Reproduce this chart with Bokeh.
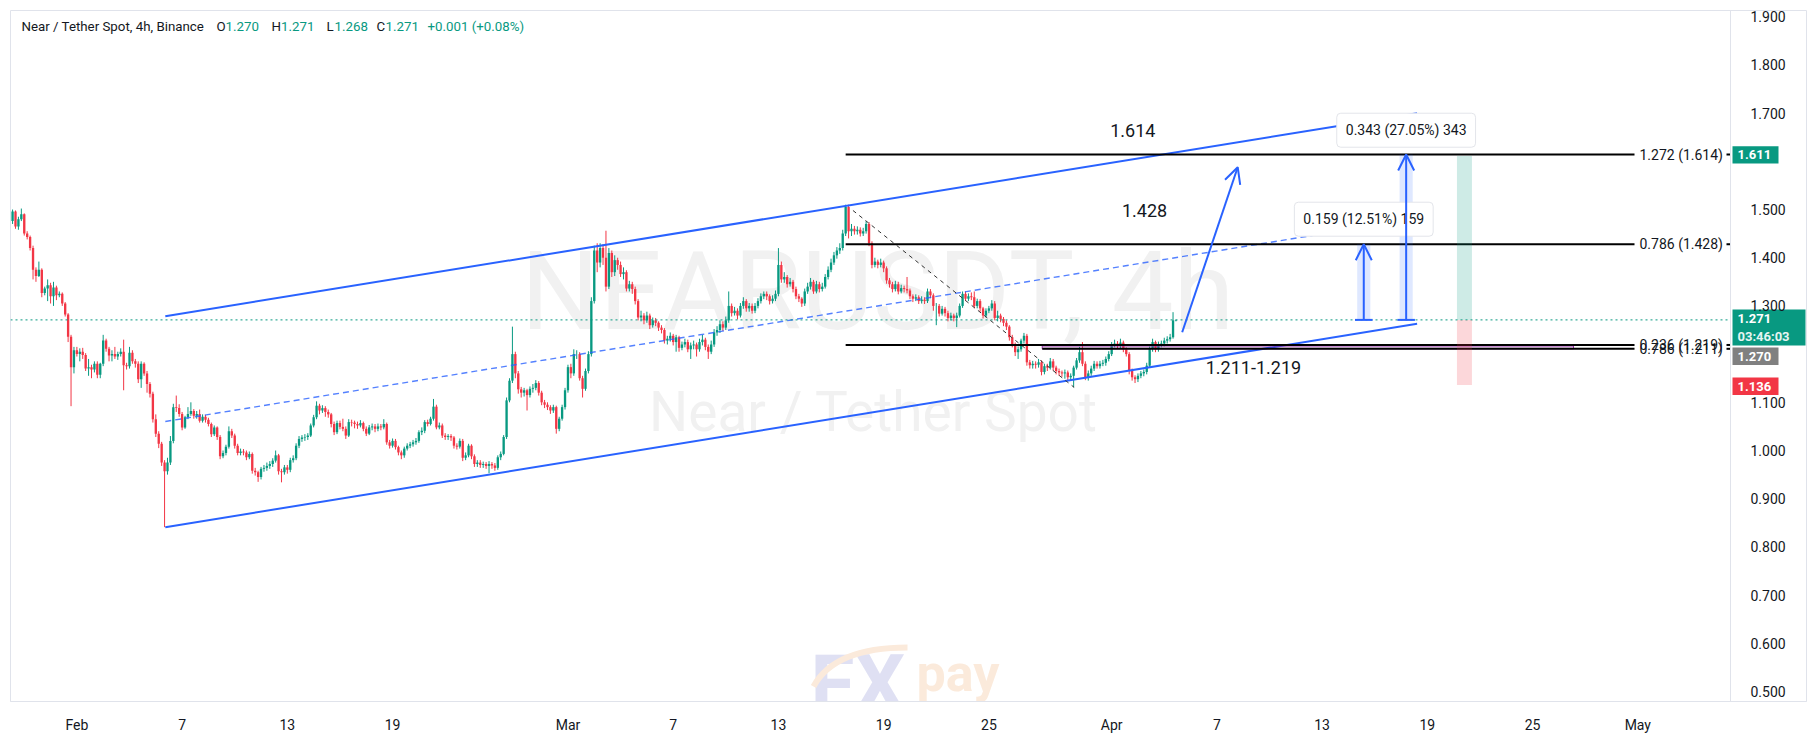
import pandas as pd
from bokeh.plotting import figure
from bokeh.models import (ColumnDataSource, Range1d, FixedTicker, PrintfTickFormatter,
                          Label, Arrow, OpenHead)
from bokeh.embed import file_html
from bokeh.resources import INLINE

# ---------------- data ----------------
bar_start = "2026-01-28 08:00"   # 4h bars
first_open = 1.476
closes = [
    1.496, 1.465, 1.480, 1.490, 1.450, 1.443, 1.420, 1.375, 1.362, 1.375,
    1.327, 1.336, 1.343, 1.320, 1.338, 1.322, 1.325, 1.305, 1.282, 1.236,
    1.173, 1.208, 1.200, 1.205, 1.198, 1.170, 1.173, 1.168, 1.180, 1.157,
    1.180, 1.228, 1.211, 1.197, 1.200, 1.195, 1.200, 1.205, 1.177, 1.175,
    1.203, 1.185, 1.180, 1.148, 1.180, 1.160, 1.138, 1.118, 1.065, 1.035,
    1.014, 0.975, 0.957, 0.975, 1.020, 1.090, 1.088, 1.076, 1.048, 1.069,
    1.076, 1.082, 1.072, 1.076, 1.062, 1.070, 1.064, 1.055, 1.034, 1.048,
    1.028, 0.988, 0.995, 1.008, 1.040, 1.031, 1.010, 0.995, 0.998, 0.996,
    0.986, 0.993, 0.958, 0.955, 0.945, 0.962, 0.964, 0.968, 0.972, 0.979,
    0.990, 0.957, 0.955, 0.965, 0.960, 0.980, 0.984, 1.010, 1.024, 1.027,
    1.028, 1.031, 1.052, 1.069, 1.093, 1.083, 1.088, 1.080, 1.075, 1.055,
    1.038, 1.057, 1.049, 1.045, 1.031, 1.059, 1.058, 1.055, 1.052, 1.057,
    1.045, 1.035, 1.048, 1.050, 1.045, 1.050, 1.048, 1.055, 1.017, 1.010,
    1.020, 1.007, 0.996, 0.990, 1.004, 1.010, 1.013, 1.017, 1.020, 1.038,
    1.041, 1.059, 1.055, 1.066, 1.091, 1.048, 1.052, 1.031, 1.028, 1.030,
    1.027, 1.010, 1.008, 1.020, 0.985, 0.990, 1.010, 0.988, 0.972, 0.975,
    0.970, 0.972, 0.968, 0.972, 0.969, 0.964, 0.986, 0.993, 1.028, 1.104,
    1.145, 1.200, 1.160, 1.127, 1.120, 1.125, 1.115, 1.128, 1.130, 1.140,
    1.120, 1.100, 1.095, 1.090, 1.083, 1.090, 1.045, 1.066, 1.090, 1.125,
    1.173, 1.160, 1.200, 1.200, 1.150, 1.128, 1.165, 1.200, 1.310, 1.415,
    1.390, 1.420, 1.400, 1.340, 1.410, 1.370, 1.395, 1.385, 1.366, 1.370,
    1.336, 1.345, 1.335, 1.310, 1.276, 1.280, 1.270, 1.280, 1.260, 1.270,
    1.265, 1.255, 1.250, 1.228, 1.232, 1.238, 1.225, 1.235, 1.213, 1.220,
    1.225, 1.210, 1.218, 1.220, 1.210, 1.225, 1.230, 1.215, 1.205, 1.220,
    1.245, 1.250, 1.262, 1.255, 1.270, 1.300, 1.285, 1.290, 1.280, 1.300,
    1.310, 1.295, 1.300, 1.290, 1.300, 1.310, 1.320, 1.325, 1.320, 1.310,
    1.315, 1.325, 1.385, 1.355, 1.360, 1.345, 1.350, 1.335, 1.320, 1.315,
    1.305, 1.330, 1.340, 1.350, 1.330, 1.345, 1.335, 1.340, 1.360, 1.375,
    1.390, 1.405, 1.415, 1.420, 1.450, 1.505, 1.455, 1.460, 1.455, 1.458,
    1.450, 1.455, 1.470, 1.430, 1.385, 1.392, 1.385, 1.390, 1.378, 1.353,
    1.345, 1.335, 1.345, 1.330, 1.337, 1.335, 1.332, 1.320, 1.315, 1.318,
    1.310, 1.313, 1.310, 1.330, 1.322, 1.300, 1.300, 1.284, 1.294, 1.285,
    1.275, 1.280, 1.275, 1.280, 1.300, 1.325, 1.315, 1.320, 1.318, 1.300,
    1.310, 1.295, 1.280, 1.290, 1.295, 1.305, 1.275, 1.280, 1.273, 1.265,
    1.257, 1.235, 1.220, 1.204, 1.210, 1.228, 1.238, 1.183, 1.177, 1.180,
    1.178, 1.183, 1.163, 1.175, 1.172, 1.185, 1.172, 1.165, 1.162, 1.160,
    1.162, 1.152, 1.155, 1.172, 1.187, 1.204, 1.180, 1.152, 1.160, 1.170,
    1.180, 1.175, 1.180, 1.182, 1.190, 1.200, 1.220, 1.222, 1.218, 1.224,
    1.210, 1.200, 1.165, 1.152, 1.148, 1.155, 1.160, 1.163, 1.176, 1.211,
    1.225, 1.210, 1.220, 1.222, 1.228, 1.231, 1.235, 1.270, 1.271,
]
highs = [
    1.500, 1.498, 1.485, 1.502, 1.492, 1.455, 1.446, 1.425, 1.380, 1.392,
    1.378, 1.340, 1.355, 1.348, 1.350, 1.342, 1.330, 1.328, 1.308, 1.285,
    1.240, 1.215, 1.215, 1.212, 1.213, 1.202, 1.190, 1.178, 1.185, 1.185,
    1.182, 1.240, 1.232, 1.215, 1.208, 1.215, 1.205, 1.212, 1.230, 1.182,
    1.215, 1.208, 1.190, 1.185, 1.185, 1.183, 1.165, 1.142, 1.122, 1.075,
    1.040, 1.018, 0.980, 0.985, 1.030, 1.097, 1.114, 1.096, 1.080, 1.072,
    1.090, 1.100, 1.086, 1.082, 1.085, 1.075, 1.074, 1.068, 1.058, 1.052,
    1.050, 1.032, 1.000, 1.012, 1.050, 1.045, 1.035, 1.014, 1.004, 1.003,
    1.000, 0.998, 0.996, 0.964, 0.958, 0.966, 0.970, 0.975, 0.978, 0.984,
    1.000, 0.993, 0.962, 0.970, 0.970, 0.985, 0.990, 1.015, 1.030, 1.032,
    1.034, 1.036, 1.056, 1.074, 1.102, 1.097, 1.094, 1.092, 1.085, 1.078,
    1.060, 1.062, 1.062, 1.066, 1.050, 1.065, 1.064, 1.062, 1.060, 1.063,
    1.060, 1.050, 1.053, 1.056, 1.055, 1.056, 1.055, 1.065, 1.058, 1.022,
    1.025, 1.024, 1.010, 1.000, 1.008, 1.015, 1.018, 1.022, 1.026, 1.042,
    1.048, 1.063, 1.064, 1.070, 1.107, 1.095, 1.058, 1.056, 1.036, 1.034,
    1.034, 1.030, 1.015, 1.025, 1.024, 0.996, 1.014, 1.013, 0.992, 0.980,
    0.980, 0.977, 0.976, 0.978, 0.976, 0.974, 0.990, 0.998, 1.032, 1.110,
    1.150, 1.257, 1.205, 1.165, 1.132, 1.130, 1.128, 1.133, 1.138, 1.146,
    1.144, 1.124, 1.105, 1.100, 1.094, 1.095, 1.093, 1.070, 1.095, 1.130,
    1.178, 1.180, 1.210, 1.208, 1.204, 1.155, 1.170, 1.206, 1.318, 1.425,
    1.430, 1.430, 1.428, 1.456, 1.420, 1.415, 1.405, 1.400, 1.392, 1.380,
    1.374, 1.352, 1.350, 1.340, 1.314, 1.290, 1.285, 1.288, 1.284, 1.276,
    1.275, 1.268, 1.260, 1.254, 1.238, 1.245, 1.242, 1.240, 1.238, 1.226,
    1.232, 1.230, 1.224, 1.228, 1.224, 1.232, 1.240, 1.234, 1.220, 1.228,
    1.252, 1.258, 1.270, 1.268, 1.278, 1.330, 1.305, 1.298, 1.295, 1.306,
    1.318, 1.314, 1.306, 1.305, 1.306, 1.316, 1.326, 1.330, 1.330, 1.324,
    1.322, 1.332, 1.420, 1.392, 1.370, 1.364, 1.358, 1.354, 1.340, 1.325,
    1.318, 1.336, 1.348, 1.358, 1.354, 1.352, 1.350, 1.348, 1.366, 1.382,
    1.398, 1.412, 1.422, 1.430, 1.458, 1.510, 1.510, 1.470, 1.466, 1.465,
    1.463, 1.462, 1.476, 1.474, 1.434, 1.400, 1.396, 1.398, 1.394, 1.382,
    1.358, 1.350, 1.352, 1.350, 1.344, 1.342, 1.360, 1.336, 1.324, 1.324,
    1.322, 1.320, 1.318, 1.336, 1.335, 1.326, 1.306, 1.304, 1.300, 1.298,
    1.290, 1.286, 1.284, 1.286, 1.305, 1.330, 1.330, 1.326, 1.328, 1.330,
    1.315, 1.314, 1.298, 1.295, 1.300, 1.312, 1.310, 1.290, 1.284, 1.277,
    1.270, 1.260, 1.240, 1.224, 1.216, 1.232, 1.244, 1.242, 1.188, 1.186,
    1.185, 1.190, 1.187, 1.180, 1.180, 1.192, 1.190, 1.176, 1.170, 1.166,
    1.168, 1.166, 1.160, 1.176, 1.192, 1.215, 1.225, 1.185, 1.166, 1.176,
    1.186, 1.185, 1.186, 1.188, 1.195, 1.206, 1.225, 1.230, 1.227, 1.232,
    1.228, 1.214, 1.204, 1.170, 1.156, 1.160, 1.165, 1.168, 1.182, 1.216,
    1.232, 1.228, 1.226, 1.228, 1.234, 1.237, 1.242, 1.287, 1.271,
]
lows = [
    1.470, 1.460, 1.458, 1.476, 1.446, 1.438, 1.415, 1.355, 1.350, 1.360,
    1.318, 1.322, 1.310, 1.305, 1.300, 1.312, 1.318, 1.300, 1.278, 1.225,
    1.092, 1.160, 1.195, 1.185, 1.190, 1.165, 1.155, 1.150, 1.162, 1.150,
    1.150, 1.175, 1.205, 1.185, 1.185, 1.190, 1.188, 1.195, 1.125, 1.168,
    1.170, 1.180, 1.172, 1.140, 1.130, 1.155, 1.120, 1.110, 1.058, 1.028,
    1.005, 0.968, 0.841, 0.950, 0.970, 1.015, 1.080, 1.070, 1.042, 1.045,
    1.065, 1.072, 1.066, 1.066, 1.058, 1.058, 1.058, 1.050, 1.028, 1.030,
    1.022, 0.982, 0.984, 0.990, 1.004, 1.026, 1.004, 0.990, 0.990, 0.990,
    0.980, 0.982, 0.952, 0.948, 0.935, 0.940, 0.956, 0.958, 0.962, 0.966,
    0.975, 0.950, 0.934, 0.950, 0.952, 0.955, 0.975, 0.980, 1.005, 1.018,
    1.020, 1.022, 1.028, 1.048, 1.065, 1.075, 1.078, 1.070, 1.068, 1.048,
    1.032, 1.034, 1.044, 1.040, 1.024, 1.028, 1.050, 1.046, 1.045, 1.048,
    1.040, 1.030, 1.032, 1.042, 1.038, 1.040, 1.042, 1.044, 1.012, 1.004,
    1.006, 1.002, 0.990, 0.982, 0.985, 1.000, 1.005, 1.008, 1.012, 1.016,
    1.032, 1.036, 1.050, 1.052, 1.062, 1.044, 1.044, 1.026, 1.022, 1.022,
    1.020, 1.004, 1.002, 1.004, 0.978, 0.980, 0.986, 0.982, 0.966, 0.966,
    0.964, 0.964, 0.962, 0.953, 0.962, 0.958, 0.960, 0.980, 0.990, 1.024,
    1.100, 1.140, 1.150, 1.118, 1.110, 1.112, 1.083, 1.110, 1.120, 1.125,
    1.114, 1.094, 1.088, 1.084, 1.076, 1.078, 1.035, 1.040, 1.062, 1.085,
    1.120, 1.150, 1.155, 1.190, 1.145, 1.110, 1.124, 1.160, 1.195, 1.305,
    1.370, 1.380, 1.385, 1.330, 1.335, 1.360, 1.362, 1.375, 1.360, 1.355,
    1.330, 1.330, 1.325, 1.303, 1.270, 1.268, 1.262, 1.265, 1.252, 1.255,
    1.258, 1.248, 1.243, 1.222, 1.220, 1.226, 1.218, 1.205, 1.205, 1.208,
    1.214, 1.204, 1.190, 1.210, 1.195, 1.205, 1.218, 1.208, 1.190, 1.200,
    1.215, 1.238, 1.244, 1.248, 1.250, 1.265, 1.278, 1.280, 1.272, 1.276,
    1.294, 1.288, 1.288, 1.284, 1.285, 1.295, 1.305, 1.314, 1.312, 1.303,
    1.305, 1.310, 1.320, 1.348, 1.348, 1.338, 1.340, 1.328, 1.314, 1.308,
    1.298, 1.300, 1.325, 1.334, 1.325, 1.326, 1.328, 1.330, 1.336, 1.355,
    1.370, 1.385, 1.398, 1.408, 1.415, 1.445, 1.440, 1.445, 1.448, 1.448,
    1.444, 1.445, 1.450, 1.424, 1.378, 1.380, 1.378, 1.380, 1.370, 1.346,
    1.338, 1.328, 1.330, 1.324, 1.326, 1.328, 1.326, 1.314, 1.308, 1.310,
    1.304, 1.305, 1.304, 1.306, 1.316, 1.290, 1.260, 1.278, 1.280, 1.278,
    1.268, 1.270, 1.268, 1.256, 1.276, 1.296, 1.310, 1.310, 1.312, 1.295,
    1.295, 1.288, 1.274, 1.276, 1.285, 1.290, 1.270, 1.268, 1.266, 1.258,
    1.250, 1.228, 1.214, 1.196, 1.190, 1.205, 1.222, 1.176, 1.170, 1.170,
    1.170, 1.172, 1.156, 1.158, 1.165, 1.168, 1.166, 1.158, 1.155, 1.153,
    1.149, 1.146, 1.145, 1.131, 1.168, 1.182, 1.175, 1.146, 1.145, 1.155,
    1.165, 1.170, 1.170, 1.175, 1.176, 1.185, 1.196, 1.214, 1.212, 1.212,
    1.204, 1.195, 1.158, 1.145, 1.140, 1.142, 1.150, 1.154, 1.158, 1.172,
    1.205, 1.204, 1.205, 1.214, 1.216, 1.222, 1.226, 1.232, 1.268,
]

price_ticks = [0.5, 0.6, 0.7, 0.8, 0.9, 1.0, 1.1, 1.3, 1.4, 1.5, 1.7, 1.8, 1.9]
date_ticks = ["2026-02-01", "2026-02-07", "2026-02-13", "2026-02-19", "2026-03-01",
              "2026-03-07", "2026-03-13", "2026-03-19", "2026-03-25", "2026-04-01",
              "2026-04-07", "2026-04-13", "2026-04-19", "2026-04-25", "2026-05-01"]
date_tick_labels = ["Feb", "7", "13", "19", "Mar", "7", "13", "19", "25", "Apr",
                    "7", "13", "19", "25", "May"]

header_title = "Near / Tether Spot, 4h, Binance"
ohlc_letters = ["O", "H", "L", "C"]
ohlc_values = ["1.270", "1.271", "1.268", "1.271"]
change_text = "+0.001 (+0.08%)"

# chart drawings, anchored in (date, price)
channel_dates = ["2026-02-06 01:00", "2026-04-18 10:00"]
channel_upper = [1.2786, 1.6998]
channel_lower = [0.841, 1.2629]
channel_mid = [1.0602, 1.4814]
diag_dates = ["2026-03-17 06:00", "2026-03-29 20:40"]
diag_prices = [1.498, 1.131]
fib_levels = [1.614, 1.428, 1.219, 1.211]
fib_texts = ["1.272 (1.614)", "0.786 (1.428)", "0.236 (1.219)", "0.786 (1.211)"]
fib_start_dates = ["2026-03-16 20:00", "2026-03-16 20:00", "2026-03-16 20:00", "2026-03-28 01:00"]
zone_dates = ["2026-03-28 01:00", "2026-04-27 08:00"]
zone_prices = [1.211, 1.217]
projection_dates = ["2026-04-05 00:30", "2026-04-08 04:30"]
projection_prices = [1.2454, 1.5878]
current_price = 1.271
measure_dates = ["2026-04-15 09:00", "2026-04-17 19:00"]
measure_from = [1.271, 1.271]
measure_to = [1.428, 1.614]
measure_texts = ["0.159 (12.51%) 159", "0.343 (27.05%) 343"]
measure_label_prices = [1.4799, 1.6645]
position_dates = ["2026-04-20 16:30", "2026-04-21 13:00"]
position_target, position_entry, position_stop = 1.611, 1.271, 1.136
note_texts = ["1.614", "1.428", "1.211-1.219"]
note_dates = ["2026-04-02 05:00", "2026-04-02 21:00", "2026-04-09 02:00"]
note_prices = [1.6645, 1.4986, 1.1728]
badge_texts = ["1.611", "1.271", "1.270", "1.136"]
badge_prices = [1.6133, 1.2552, 1.1956, 1.1332]
badge_colors = ["#089981", "#089981", "#808080", "#f23645"]
countdown_text = "03:46:03"

# ---------------- helpers ----------------
T0 = pd.Timestamp("2026-02-01")


def day(s):
    return (pd.Timestamp(s) - T0) / pd.Timedelta(days=1)


X_START, X_END = day("2026-01-28 05:10"), day("2026-05-10 14:50")
Y_START, Y_END = 0.4793, 1.9129
FRAME_L, FRAME_T, FRAME_W, FRAME_H = 10, 10, 1796, 691
PRICE_AXIS_PX = 1730


def px_x(px):
    return X_START + (px - FRAME_L) / FRAME_W * (X_END - X_START)


def px_y(py):
    return Y_END - (py - FRAME_T) / FRAME_H * (Y_END - Y_START)


def px_h(n):
    return n / FRAME_H * (Y_END - Y_START)


FONT = "Roboto"
UP, DOWN = "#089981", "#f23645"
BLUE = "#2962ff"
TXT = "#131722"
HEAD_SIZE = "13.3px"

dates = pd.date_range(bar_start, periods=len(closes), freq="4h")
xs = [(d - T0) / pd.Timedelta(days=1) for d in dates]
opens = [first_open] + closes[:-1]
colors = [UP if c >= o else DOWN for o, c in zip(opens, closes)]
src = ColumnDataSource(dict(
    x=xs, top=[max(o, c) for o, c in zip(opens, closes)],
    bottom=[min(o, c) for o, c in zip(opens, closes)],
    high=highs, low=lows, color=colors))

p = figure(frame_width=FRAME_W, frame_height=FRAME_H, output_backend="svg",
           toolbar_location=None, y_axis_location="right",
           x_range=Range1d(X_START, X_END), y_range=Range1d(Y_START, Y_END),
           min_border_left=FRAME_L, min_border_top=FRAME_T, min_border_right=1,
           min_border_bottom=35,
           background_fill_color="white", border_fill_color="white")
p.grid.visible = False
p.outline_line_color = "#e0e3eb"

ya = p.yaxis[0]
ya.fixed_location = px_x(PRICE_AXIS_PX)
ya.ticker = FixedTicker(ticks=price_ticks)
ya.formatter = PrintfTickFormatter(format="%.3f")
xa = p.xaxis[0]
xa.ticker = FixedTicker(ticks=[day(d) for d in date_ticks])
xa.major_label_overrides = {int(day(d)): lab for d, lab in zip(date_ticks, date_tick_labels)}
for ax in (xa, ya):
    ax.major_tick_line_color = None
    ax.minor_tick_line_color = None
    ax.axis_line_color = "#e0e3eb"
    ax.major_label_text_font = FONT
    ax.major_label_text_font_size = "14px"
    ax.major_label_text_color = TXT
ya.major_label_standoff = 14
xa.major_label_standoff = 9

# ---------------- watermarks ----------------
for txt, size, px, py in [("NEARUSDT, 4h", "110px", 877, 291),
                          ("Near / Tether Spot", "55px", 873, 411)]:
    p.add_layout(Label(x=px_x(px), y=px_y(py), text=txt, text_align="center",
                       text_baseline="middle", text_font=FONT, text_font_size=size,
                       text_color="#f1f1f1", level="underlay"))
p.add_layout(Label(x=px_x(810), y=px_y(683), text="FX", text_font=FONT,
                   text_font_size="80px", text_font_style="bold",
                   text_color="#dfe0f3", text_baseline="alphabetic", level="underlay"))
p.add_layout(Label(x=px_x(916), y=px_y(673), text="pay", text_font=FONT,
                   text_font_size="52px", text_font_style="bold",
                   text_color="#fbeadb", text_baseline="alphabetic", level="underlay"))
# peach swoosh of the logo, drawn in front of the letters
p.quadratic(x0=[px_x(813)], y0=[px_y(686)], x1=[px_x(907)], y1=[px_y(647)],
            cx=[px_x(834)], cy=[px_y(647)], line_color="#fbeadb", line_width=6)

# ---------------- candles ----------------
p.segment(x0="x", y0="low", x1="x", y1="high", color="color", line_width=1, source=src)
p.vbar(x="x", top="top", bottom="bottom", width=0.8 / 6, fill_color="color",
       line_color=None, source=src)

# ---------------- drawings ----------------
cx = [day(d) for d in channel_dates]
p.line(cx, channel_upper, line_color=BLUE, line_width=2)
p.line(cx, channel_lower, line_color=BLUE, line_width=2)
p.line(cx, channel_mid, line_color=BLUE, line_alpha=0.8, line_width=1.4, line_dash="6 4")
p.line([day(d) for d in diag_dates], diag_prices, line_color="#333333", line_width=1,
       line_dash="4 4")

zx = [day(d) for d in zone_dates]
p.quad(left=zx[0], right=zx[1], bottom=zone_prices[0], top=zone_prices[1],
       fill_color="#9c27b0", fill_alpha=0.2, line_color="#9c27b0", line_width=1)

label_px, tail_px = 1639, 1726
for lvl, txt, sd in zip(fib_levels, fib_texts, fib_start_dates):
    p.segment(x0=[day(sd)], y0=[lvl], x1=[px_x(label_px - 5)], y1=[lvl],
              line_color="black", line_width=2)
    p.segment(x0=[px_x(tail_px)], y0=[lvl], x1=[px_x(PRICE_AXIS_PX)], y1=[lvl],
              line_color="black", line_width=2)
    p.add_layout(Label(x=px_x(label_px), y=lvl, text=txt, text_align="left",
                       text_baseline="middle", text_font=FONT, text_font_size="14px",
                       text_color=TXT))

# current price line (stops at the price scale)
p.segment(x0=[X_START], y0=[current_price], x1=[px_x(PRICE_AXIS_PX)], y1=[current_price],
          line_color=UP, line_dash="2 3", line_width=1)

# position tool
pxs = [day(d) for d in position_dates]
p.quad(left=pxs[0], right=pxs[1], bottom=position_entry, top=position_target,
       fill_color=UP, fill_alpha=0.2, line_color=None)
p.quad(left=pxs[0], right=pxs[1], bottom=position_stop, top=position_entry,
       fill_color=DOWN, fill_alpha=0.2, line_color=None)

# price range measures
shade_half, cap_half = 9 / 24, 12 / 24
for d, lo, hi, txt, ly in zip(measure_dates, measure_from, measure_to, measure_texts,
                              measure_label_prices):
    mx = day(d)
    p.quad(left=mx - shade_half, right=mx + shade_half, bottom=lo, top=hi,
           fill_color=BLUE, fill_alpha=0.15, line_color=None)
    p.segment(x0=[mx - cap_half], y0=[lo], x1=[mx + cap_half], y1=[lo],
              line_color=BLUE, line_width=2)
    p.add_layout(Arrow(end=OpenHead(size=16, line_color=BLUE, line_width=2),
                       x_start=mx, y_start=lo, x_end=mx, y_end=hi,
                       line_color=BLUE, line_width=2))
    p.add_layout(Label(x=mx, y=ly, text=txt, text_align="center", text_baseline="middle",
                       text_font=FONT, text_font_size="14px", text_color=TXT,
                       background_fill_color="white", border_line_color="#e3e5ea",
                       padding=9, border_radius=4))

# projection arrow
p.add_layout(Arrow(end=OpenHead(size=16, line_color=BLUE, line_width=2),
                   x_start=day(projection_dates[0]), y_start=projection_prices[0],
                   x_end=day(projection_dates[1]), y_end=projection_prices[1],
                   line_color=BLUE, line_width=2))

for txt, d, pr in zip(note_texts, note_dates, note_prices):
    p.add_layout(Label(x=day(d), y=pr, text=txt, text_align="center",
                       text_baseline="middle", text_font=FONT, text_font_size="18px",
                       text_color=TXT))

# ---------------- header ----------------
hy = px_y(25.5)
p.add_layout(Label(x=px_x(21), y=hy, text=header_title, text_baseline="middle",
                   text_font=FONT, text_font_size=HEAD_SIZE, text_color=TXT))
for letter, val, lx, vx in zip(ohlc_letters, ohlc_values, [216, 271, 326, 376],
                               [225, 280.5, 334, 385]):
    p.add_layout(Label(x=px_x(lx), y=hy, text=letter, text_baseline="middle",
                       text_font=FONT, text_font_size=HEAD_SIZE, text_color=TXT))
    p.add_layout(Label(x=px_x(vx), y=hy, text=val, text_baseline="middle",
                       text_font=FONT, text_font_size=HEAD_SIZE, text_color=UP))
p.add_layout(Label(x=px_x(427), y=hy, text=change_text, text_baseline="middle",
                   text_font=FONT, text_font_size=HEAD_SIZE, text_color=UP))

# ---------------- price-scale badges ----------------
bl, br_short, br_long = px_x(1732), px_x(1778), px_x(1805)
for i, (txt, pr, col) in enumerate(zip(badge_texts, badge_prices, badge_colors)):
    tall = i == 1
    half = px_h(18) if tall else px_h(8.7)
    p.quad(left=bl, right=br_long if tall else br_short, bottom=pr - half, top=pr + half,
           fill_color=col, line_color=None)
    ty = pr + px_h(9) if tall else pr
    p.add_layout(Label(x=px_x(1737), y=ty, text=txt, text_align="left",
                       text_baseline="middle", text_font=FONT, text_font_size="13px",
                       text_font_style="bold", text_color="white"))
    if tall:
        p.add_layout(Label(x=px_x(1737), y=pr - px_h(9), text=countdown_text,
                           text_align="left", text_baseline="middle", text_font=FONT,
                           text_font_size="13px", text_font_style="bold",
                           text_color="#e6f5f2"))

open("out.html", "w").write(file_html(p, INLINE))
